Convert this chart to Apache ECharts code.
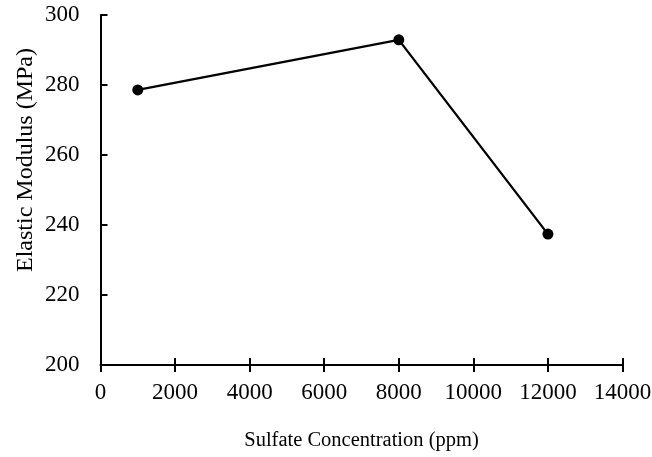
<!DOCTYPE html>
<html>
<head>
<meta charset="utf-8">
<script src="https://cdn.jsdelivr.net/npm/echarts@6/dist/echarts.min.js"></script>
<style>html,body{margin:0;padding:0;background:#fff}#c{width:652px;height:457px}</style>
</head>
<body>
<div id="c"></div>
<script>
const sulfate = [1000, 8000, 12000];
const modulus = [278.6, 292.9, 237.4];
const xTitle = 'Sulfate Concentration (ppm)';
const yTitle = 'Elastic Modulus (MPa)';

const font = 'Liberation Serif';
const chart = echarts.init(document.getElementById('c'), null, {renderer: 'canvas'});
const axisLine = {show: true, onZero: false, lineStyle: {color: '#000', width: 2}};
chart.setOption({
  animation: false,
  backgroundColor: '#fff',
  grid: {left: 100.5, right: 29.5, top: 15, bottom: 92, containLabel: false, outerBoundsMode: 'none'},
  xAxis: [{
    type: 'value', min: 0, max: 14000, interval: 2000,
    axisLine: axisLine,
    axisTick: {show: true, inside: false, length: 7, lineStyle: {color: '#000', width: 2}},
    axisLabel: {color: '#000', fontFamily: font, fontSize: 23, margin: 16, formatter: v => String(v)},
    splitLine: {show: false},
    name: xTitle, nameLocation: 'middle', nameGap: 65, nameMoveOverlap: false,
    nameTextStyle: {color: '#000', fontFamily: font, fontSize: 20.5}
  }, {
    type: 'value', min: 0, max: 14000, interval: 2000, position: 'bottom',
    axisLine: {show: false},
    axisTick: {show: true, inside: true, length: 7, lineStyle: {color: '#000', width: 2}},
    axisLabel: {show: false},
    splitLine: {show: false}
  }],
  yAxis: {
    type: 'value', min: 200, max: 300, interval: 20,
    axisLine: axisLine,
    axisTick: {show: true, inside: true, length: 7, lineStyle: {color: '#000', width: 2}},
    axisLabel: {color: '#000', fontFamily: font, fontSize: 23, margin: 21, formatter: v => String(v)},
    splitLine: {show: false},
    name: yTitle, nameLocation: 'middle', nameGap: 63, nameRotate: 90, nameMoveOverlap: false,
    nameTextStyle: {color: '#000', fontFamily: font, fontSize: 24, padding: [0, 0, 0, 60]}
  },
  series: [{
    type: 'line',
    data: sulfate.map((x, i) => [x, modulus[i]]),
    symbol: 'circle', symbolSize: 11,
    itemStyle: {color: '#000'},
    lineStyle: {color: '#000', width: 2.3}
  }]
});
</script>
</body>
</html>
